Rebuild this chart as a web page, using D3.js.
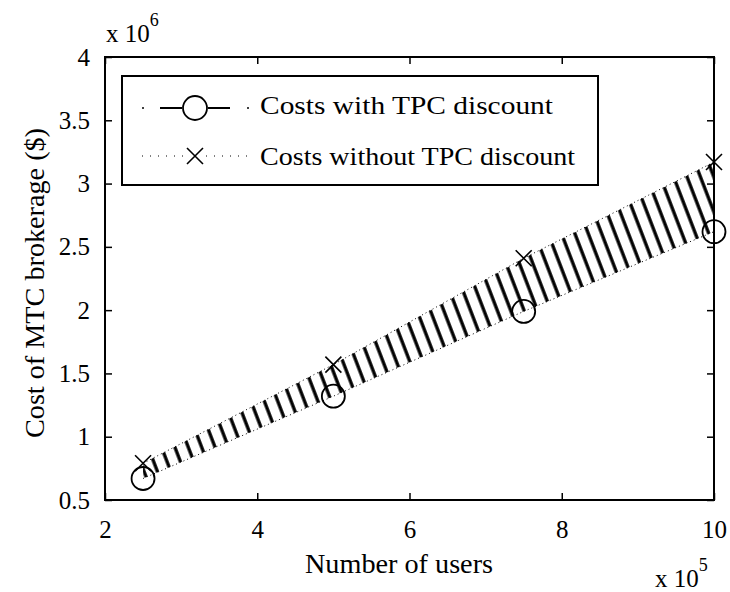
<!DOCTYPE html>
<html>
<head>
<meta charset="utf-8">
<script src="https://cdn.jsdelivr.net/npm/d3@7"></script>
<style>
  body { margin: 0; background: #fff; }
</style>
</head>
<body>
<div id="chart"></div>
<script>
// data (x in 1e5 users, y in 1e6 $)
const users = [2.5, 5, 7.5, 10];
const costsWith = [0.67, 1.32, 1.99, 2.62];
const costsWithout = [0.79, 1.57, 2.41, 3.17];
const xTicks = [2, 4, 6, 8, 10];
const yTicks = [0.5, 1, 1.5, 2, 2.5, 3, 3.5, 4];
const seriesNames = ['Costs with  TPC discount', 'Costs without  TPC discount'];

const dimensions = { width: 730, height: 592, left: 105, right: 714, top: 57, bottom: 500 };
const serif = 'Liberation Serif, Times New Roman, DejaVu Serif, serif';

const svg = d3.select('#chart').append('svg')
    .attr('width', dimensions.width)
    .attr('height', dimensions.height)
    .attr('font-family', serif);

const xScale = d3.scaleLinear().domain([2, 10]).range([dimensions.left, dimensions.right]);
const yScale = d3.scaleLinear().domain([0.5, 4]).range([dimensions.bottom, dimensions.top]);

// hatch pattern for the band between the two series
const defs = svg.append('defs');
defs.append('pattern')
    .attr('id', 'hatch')
    .attr('patternUnits', 'userSpaceOnUse')
    .attr('width', 12.5).attr('height', 12)
    .attr('patternTransform', 'rotate(-21)')
  .append('line')
    .attr('x1', 3).attr('y1', 0).attr('x2', 3).attr('y2', 12)
    .attr('stroke', '#000')
    .attr('stroke-width', 3.3);

const band = users.map((u, i) => ({ x: u, lo: costsWith[i], hi: costsWithout[i] }));
const area = d3.area()
    .x(d => xScale(d.x))
    .y0(d => yScale(d.lo))
    .y1(d => yScale(d.hi));

svg.append('path')
    .datum(band)
    .attr('d', area)
    .attr('fill', 'url(#hatch)');

const line = d3.line().x(d => xScale(d[0])).y(d => yScale(d[1]));
[costsWith, costsWithout].forEach(vals => {
    svg.append('path')
        .datum(users.map((u, i) => [u, vals[i]]))
        .attr('d', line).attr('fill', 'none')
        .attr('stroke', '#000').attr('stroke-width', 1)
        .attr('stroke-dasharray', '1,3');
});

// axes box with inward ticks
svg.append('rect')
    .attr('x', dimensions.left).attr('y', dimensions.top)
    .attr('width', dimensions.right - dimensions.left)
    .attr('height', dimensions.bottom - dimensions.top)
    .attr('fill', 'none').attr('stroke', '#000').attr('stroke-width', 2);

const fmt = d3.format('~g');
const xAxis = svg.append('g')
    .attr('transform', `translate(0, ${dimensions.bottom})`)
    .call(d3.axisBottom(xScale).tickValues(xTicks).tickFormat(fmt).tickSizeInner(-7).tickSizeOuter(0).tickPadding(20));
const xAxisTop = svg.append('g')
    .attr('transform', `translate(0, ${dimensions.top})`)
    .call(d3.axisTop(xScale).tickValues(xTicks).tickSizeInner(-7).tickSizeOuter(0).tickFormat(''));
const yAxis = svg.append('g')
    .attr('transform', `translate(${dimensions.left}, 0)`)
    .call(d3.axisLeft(yScale).tickValues(yTicks).tickFormat(fmt).tickSizeInner(-7).tickSizeOuter(0).tickPadding(15));
const yAxisRight = svg.append('g')
    .attr('transform', `translate(${dimensions.right}, 0)`)
    .call(d3.axisRight(yScale).tickValues(yTicks).tickSizeInner(-7).tickSizeOuter(0).tickFormat(''));

[xAxis, xAxisTop, yAxis, yAxisRight].forEach(g => {
    g.attr('font-family', serif).attr('font-size', 25);
    g.select('.domain').remove();
    g.selectAll('line').attr('stroke', '#000').attr('stroke-width', 1.5);
    g.selectAll('text').attr('fill', '#000').attr('font-family', serif);
});

// markers
svg.append('g').selectAll('circle')
    .data(users.map((u, i) => [u, costsWith[i]]))
    .join('circle')
    .attr('cx', d => xScale(d[0])).attr('cy', d => yScale(d[1]))
    .attr('r', 11.5)
    .attr('fill', 'none').attr('stroke', '#000').attr('stroke-width', 1.8);

const cross = (g, cx, cy, s) => {
    g.append('path')
        .attr('d', `M${cx - s},${cy - s}L${cx + s},${cy + s}M${cx - s},${cy + s}L${cx + s},${cy - s}`)
        .attr('stroke', '#000').attr('stroke-width', 1.6).attr('fill', 'none');
};
const crossG = svg.append('g');
users.forEach((u, i) => cross(crossG, xScale(u), yScale(costsWithout[i]), 8));

// legend
const legend = svg.append('g');
legend.append('rect')
    .attr('x', 122).attr('y', 76).attr('width', 476).attr('height', 109)
    .attr('fill', '#fff').attr('stroke', '#000').attr('stroke-width', 2);

// row 1: dash-dot with circle
legend.append('circle').attr('cx', 143).attr('cy', 108).attr('r', 1).attr('fill', '#000');
legend.append('line').attr('x1', 160).attr('x2', 182).attr('y1', 108).attr('y2', 108)
    .attr('stroke', '#000').attr('stroke-width', 2);
legend.append('line').attr('x1', 208).attr('x2', 230).attr('y1', 108).attr('y2', 108)
    .attr('stroke', '#000').attr('stroke-width', 2);
legend.append('circle').attr('cx', 248).attr('cy', 108).attr('r', 1).attr('fill', '#000');
legend.append('circle').attr('cx', 195).attr('cy', 108).attr('r', 12)
    .attr('fill', 'none').attr('stroke', '#000').attr('stroke-width', 1.8);
legend.append('text').attr('x', 260).attr('y', 114)
    .attr('font-family', serif).attr('font-size', 26)
    .attr('textLength', 293).attr('lengthAdjust', 'spacingAndGlyphs')
    .text(seriesNames[0]);

// row 2: dotted with cross
legend.append('line').attr('x1', 142).attr('x2', 250).attr('y1', 156).attr('y2', 156)
    .attr('stroke', '#000').attr('stroke-width', 1).attr('stroke-dasharray', '1,7');
legend.append('rect').attr('x', 185).attr('y', 149).attr('width', 20).attr('height', 14).attr('fill', '#fff');
cross(legend, 195, 156, 8);
legend.append('text').attr('x', 260).attr('y', 165)
    .attr('font-family', serif).attr('font-size', 26)
    .attr('textLength', 315).attr('lengthAdjust', 'spacingAndGlyphs')
    .text(seriesNames[1]);

// axis labels
svg.append('text')
    .attr('x', 399).attr('y', 573)
    .attr('text-anchor', 'middle')
    .attr('font-family', serif).attr('font-size', 28)
    .attr('textLength', 188).attr('lengthAdjust', 'spacingAndGlyphs')
    .text('Number of users');

svg.append('text')
    .attr('transform', `translate(44, 283) rotate(-90)`)
    .attr('text-anchor', 'middle')
    .attr('font-family', serif).attr('font-size', 28)
    .attr('textLength', 310).attr('lengthAdjust', 'spacingAndGlyphs')
    .text('Cost of MTC brokerage ($)');

// exponents
const e6 = svg.append('text').attr('x', 106).attr('y', 42).attr('font-family', serif).attr('font-size', 25);
e6.append('tspan').text('x 10');
e6.append('tspan').attr('dy', -16).attr('font-size', 18).text('6');

const e5 = svg.append('text').attr('x', 655).attr('y', 587).attr('font-family', serif).attr('font-size', 25);
e5.append('tspan').text('x 10');
e5.append('tspan').attr('dy', -16).attr('font-size', 18).text('5');
</script>
</body>
</html>
